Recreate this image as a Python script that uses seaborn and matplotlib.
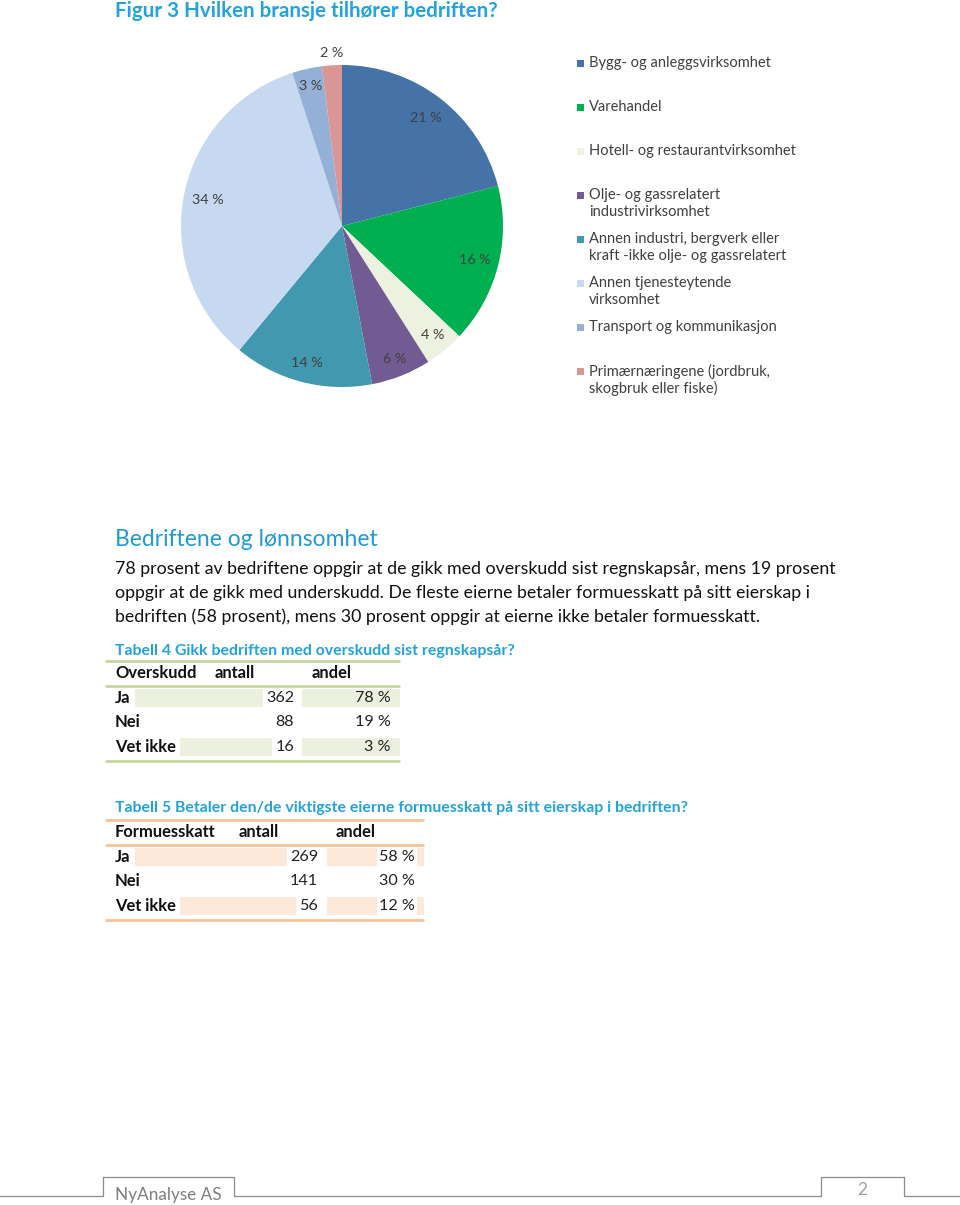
import numpy as np
import matplotlib
matplotlib.use("Agg")
import matplotlib.pyplot as plt
from matplotlib.patches import Rectangle
import seaborn as sns

# ---------------- data ----------------
fig_title = "Figur 3 Hvilken bransje tilhører bedriften?"
sectors = [
    "Bygg- og anleggsvirksomhet",
    "Varehandel",
    "Hotell- og restaurantvirksomhet",
    "Olje- og gassrelatert\nindustrivirksomhet",
    "Annen industri, bergverk eller\nkraft -ikke olje- og gassrelatert",
    "Annen tjenesteytende\nvirksomhet",
    "Transport og kommunikasjon",
    "Primærnæringene (jordbruk,\nskogbruk eller fiske)",
]
shares = [21, 16, 4, 6, 14, 34, 3, 2]
sector_colors = ["#4572A7", "#00B050", "#EDF1E0", "#725A92",
                 "#4198AF", "#C6D9F1", "#95B0D6", "#D99694"]

heading = "Bedriftene og lønnsomhet"
body_lines = [
    "78 prosent av bedriftene oppgir at de gikk med overskudd sist regnskapsår, mens 19 prosent",
    "oppgir at de gikk med underskudd. De fleste eierne betaler formuesskatt på sitt eierskap i",
    "bedriften (58 prosent), mens 30 prosent oppgir at eierne ikke betaler formuesskatt.",
]

t4_title = "Tabell 4 Gikk bedriften med overskudd sist regnskapsår?"
t4_header = ["Overskudd", "antall", "andel"]
t4_rows = ["Ja", "Nei", "Vet ikke"]
t4_count = [362, 88, 16]
t4_pct = [78, 19, 3]

t5_title = "Tabell 5 Betaler den/de viktigste eierne formuesskatt på sitt eierskap i bedriften?"
t5_header = ["Formuesskatt", "antall", "andel"]
t5_rows = ["Ja", "Nei", "Vet ikke"]
t5_count = [269, 141, 56]
t5_pct = [58, 30, 12]

footer_left = "NyAnalyse AS"
footer_page = "2"

# ---------------- style ----------------
sns.set_theme(style="white")
plt.rcParams["font.family"] = ["Lato", "DejaVu Sans"]
palette = sns.color_palette(sector_colors)

W, H = 960, 1205
fig = plt.figure(figsize=(W / 100, H / 100), dpi=100)
fig.patch.set_facecolor("white")

# ---------------- pie ----------------
pc = (342, 226)
R = 161
pax = fig.add_axes([(pc[0] - 1.25 * R) / W, 1 - (pc[1] + 1.25 * R) / H,
                    2.5 * R / W, 2.5 * R / H])
wedges, _ = pax.pie(shares, colors=palette, startangle=90, counterclock=False,
                    wedgeprops=dict(linewidth=0))
pax.set_xlim(-1.25, 1.25)
pax.set_ylim(-1.25, 1.25)
label_r = [0.85, 0.85, 0.88, 0.89, 0.88, 0.85, 0.89, 1.075]
for w, v, r in zip(wedges, shares, label_r):
    a = np.deg2rad((w.theta1 + w.theta2) / 2)
    pax.text(r * np.cos(a), r * np.sin(a), f"{v} %", ha="center", va="center",
             fontsize=10.3, color="#404040")

# ---------------- overlay in pixel coords ----------------
ov = fig.add_axes([0, 0, 1, 1])
ov.set_xlim(0, W)
ov.set_ylim(H, 0)
ov.axis("off")

CYAN = "#21A3DD"
ov.text(115, 17, fig_title, ha="left", va="baseline", fontsize=14.8,
        fontweight="bold", color=CYAN)

# legend
leg_y0, leg_dy = 63, 44
for i, (lab, c) in enumerate(zip(sectors, palette)):
    y = leg_y0 + leg_dy * i
    ov.add_patch(Rectangle((577, y - 3.5), 7, 7, color=c, lw=0))
    for k, line in enumerate(lab.split("\n")):
        ov.text(589, y + 17 * k, line, ha="left", va="center", fontsize=10.5,
                color="#404040")

# body text
ov.text(115, 540, heading, ha="left", va="center", fontsize=16.5,
        color="#1E9AD6")
for k, line in enumerate(body_lines):
    ov.text(115, 569 + 24 * k, line, ha="left", va="center", fontsize=12.8,
            color="#111111")

renderer = fig.canvas.get_renderer()
inv = ov.transData.inverted()


def text_extent(t):
    bb = t.get_window_extent(renderer=renderer).transformed(inv)
    return min(bb.x0, bb.x1), max(bb.x0, bb.x1)


def draw_table(title, title_y, top, left, right, col_x, num_r, num_box_r,
               pct_r, pct_box, header, rows, counts, pcts, band, line):
    ov.text(115, title_y, title, ha="left", va="center", fontsize=11.4,
            fontweight="bold", color=CYAN)
    lw = 1.9
    for yy in (top, top + 25, top + 100):
        ov.plot([left, right], [yy, yy], color=line, lw=lw, solid_capstyle="butt")
    for x, h in zip(col_x, header):
        ov.text(x, top + 12, h, ha="left", va="center", fontsize=11.9,
                fontweight="bold", color="#111111")
    row_y = [top + 37, top + 61, top + 86]
    for i, (lab, n, p) in enumerate(zip(rows, counts, pcts)):
        y = row_y[i]
        banded = i % 2 == 0
        if banded:
            ov.add_patch(Rectangle((left, y - 9.5), right - left, 18,
                                   color=band, lw=0, zorder=0))
        tl = ov.text(115, y, lab, ha="left", va="center", fontsize=11.9,
                     fontweight="bold", color="#111111", zorder=3)
        tn = ov.text(num_r, y, f"{n}", ha="right", va="center", fontsize=11.6,
                     color="#222222", zorder=3)
        ov.text(pct_r, y, f"{p} %", ha="right", va="center", fontsize=11.6,
                color="#222222", zorder=3)
        if banded:
            _, x1 = text_extent(tl)
            ov.add_patch(Rectangle((left, y - 9.5), x1 + 4 - left, 18,
                                   color="white", lw=0, zorder=1))
            x0, _ = text_extent(tn)
            ov.add_patch(Rectangle((x0 - 3, y - 9.5), num_box_r - x0 + 3, 18,
                                   color="white", lw=0, zorder=1))
            if pct_box is not None:
                ov.add_patch(Rectangle((pct_box[0], y - 9.5), pct_box[1] - pct_box[0], 18,
                                       color="white", lw=0, zorder=1))


draw_table(t4_title, 651, 661, 105, 400, [115, 215, 312], 294, 302, 391, None,
           t4_header, t4_rows, t4_count, t4_pct, "#EBF1DE", "#C3D69B")
draw_table(t5_title, 808, 820, 105, 424, [115, 239, 336], 318, 327, 415, (377, 417),
           t5_header, t5_rows, t5_count, t5_pct, "#FDE9D9", "#FAC090")

# footer
fx = [0, 103, 103, 234, 234, 821, 821, 904, 904, 960]
fy = [1196, 1196, 1177, 1177, 1196, 1196, 1177, 1177, 1196, 1196]
ov.plot(fx, fy, color="#8C8C8C", lw=0.9)
ov.text(115, 1195, footer_left, ha="left", va="center", fontsize=12.3,
        color="#7F7F7F")
ov.text(862, 1190, footer_page, ha="center", va="center", fontsize=12.5,
        color="#A0A0A0")

fig.savefig("out.png", dpi=100, facecolor="white")
